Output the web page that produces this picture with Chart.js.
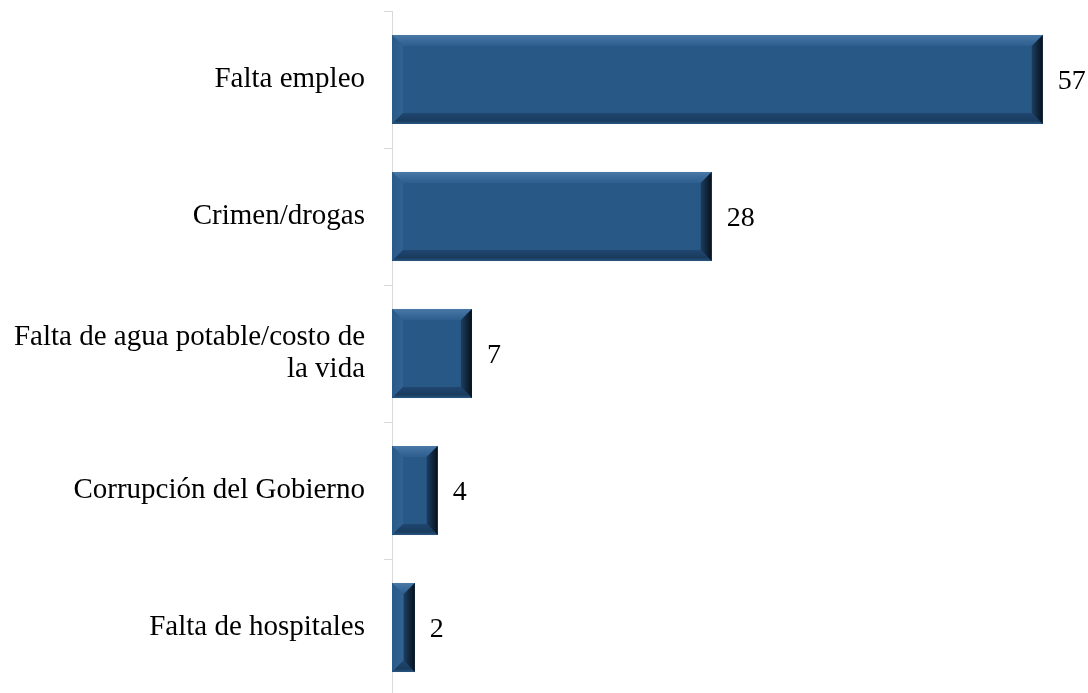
<!DOCTYPE html>
<html>
<head>
<meta charset="utf-8">
<script src="https://cdn.jsdelivr.net/npm/chart.js@4"></script>
<style>
  html, body { margin: 0; padding: 0; background: #ffffff; overflow: hidden; }
  #wrap { position: absolute; left: 0; top: 0; width: 1088px; height: 700px; }
</style>
</head>
<body>
<div id="wrap"><canvas id="c" width="1088" height="700"></canvas></div>
<script>
const categories = [
  "Falta empleo",
  "Crimen/drogas",
  ["Falta de agua potable/costo de", "la vida"],
  "Corrupción del Gobierno",
  "Falta de hospitales"
];
const values = [57, 28, 7, 4, 2];
const xMax = 60;

const FONT = '"Liberation Serif", "Times New Roman", serif';

const bevelPlugin = {
  id: 'bevel',
  afterDatasetsDraw(chart) {
    const ctx = chart.ctx;
    const meta = chart.getDatasetMeta(0);
    meta.data.forEach((bar, i) => {
      const p = bar.getProps(['x', 'y', 'base', 'height'], true);
      const L = Math.min(p.base, p.x), R = Math.max(p.base, p.x);
      const T = p.y - p.height / 2, B = p.y + p.height / 2;
      const w = R - L, h = B - T;
      const b = Math.min(11, w / 2, h / 2);
      ctx.save();
      ctx.fillStyle = '#285886';
      ctx.fillRect(L, T, w, h);
      const poly = (pts, fill) => {
        ctx.beginPath();
        ctx.moveTo(pts[0][0], pts[0][1]);
        for (let k = 1; k < pts.length; k++) ctx.lineTo(pts[k][0], pts[k][1]);
        ctx.closePath();
        ctx.fillStyle = fill;
        ctx.fill();
      };
      let g = ctx.createLinearGradient(0, T, 0, T + b);
      g.addColorStop(0, '#4a79a8');
      g.addColorStop(0.4, '#3d6d9c');
      g.addColorStop(1, '#2e5e8d');
      poly([[L, T], [R, T], [R - b, T + b], [L + b, T + b]], g);
      g = ctx.createLinearGradient(L, 0, L + b, 0);
      g.addColorStop(0, '#2a5a88');
      g.addColorStop(1, '#316291');
      poly([[L, T], [L + b, T + b], [L + b, B - b], [L, B]], g);
      g = ctx.createLinearGradient(0, B - b, 0, B);
      g.addColorStop(0, '#204670');
      g.addColorStop(0.7, '#193b5e');
      g.addColorStop(1, '#2a5680');
      poly([[L, B], [R, B], [R - b, B - b], [L + b, B - b]], g);
      g = ctx.createLinearGradient(R - b, 0, R, 0);
      g.addColorStop(0, '#1c3e61');
      g.addColorStop(1, '#07111c');
      poly([[R, T], [R - b, T + b], [R - b, B - b], [R, B]], g);
      ctx.restore();

      ctx.save();
      ctx.font = '28px ' + FONT;
      ctx.fillStyle = '#000000';
      ctx.textAlign = 'left';
      ctx.textBaseline = 'middle';
      ctx.fillText(String(values[i]), R + 15, p.y + 2);
      ctx.restore();
    });
  }
};

new Chart(document.getElementById('c'), {
  type: 'bar',
  data: {
    labels: categories,
    datasets: [{
      data: values,
      backgroundColor: '#285886',
      borderWidth: 0,
      categoryPercentage: 0.65,
      barPercentage: 1.0
    }]
  },
  options: {
    indexAxis: 'y',
    responsive: false,
    animation: false,
    layout: { padding: { top: 11, bottom: 4, left: 0, right: 11 } },
    plugins: {
      legend: { display: false },
      tooltip: { enabled: false }
    },
    scales: {
      x: {
        display: false,
        min: 0,
        max: xMax
      },
      y: {
        afterFit(scale) {
          scale.width = 392;
          scale.paddingTop = 0;
          scale.paddingBottom = 0;
        },
        border: { display: true, color: '#d9d9d9', width: 1 },
        grid: {
          display: true,
          drawOnChartArea: false,
          drawTicks: true,
          tickLength: 8,
          color: '#d9d9d9',
          offset: true
        },
        ticks: {
          color: '#000000',
          padding: 19,
          font: { family: FONT, size: 29, lineHeight: 1.12 }
        }
      }
    }
  },
  plugins: [bevelPlugin]
});
</script>
</body>
</html>
